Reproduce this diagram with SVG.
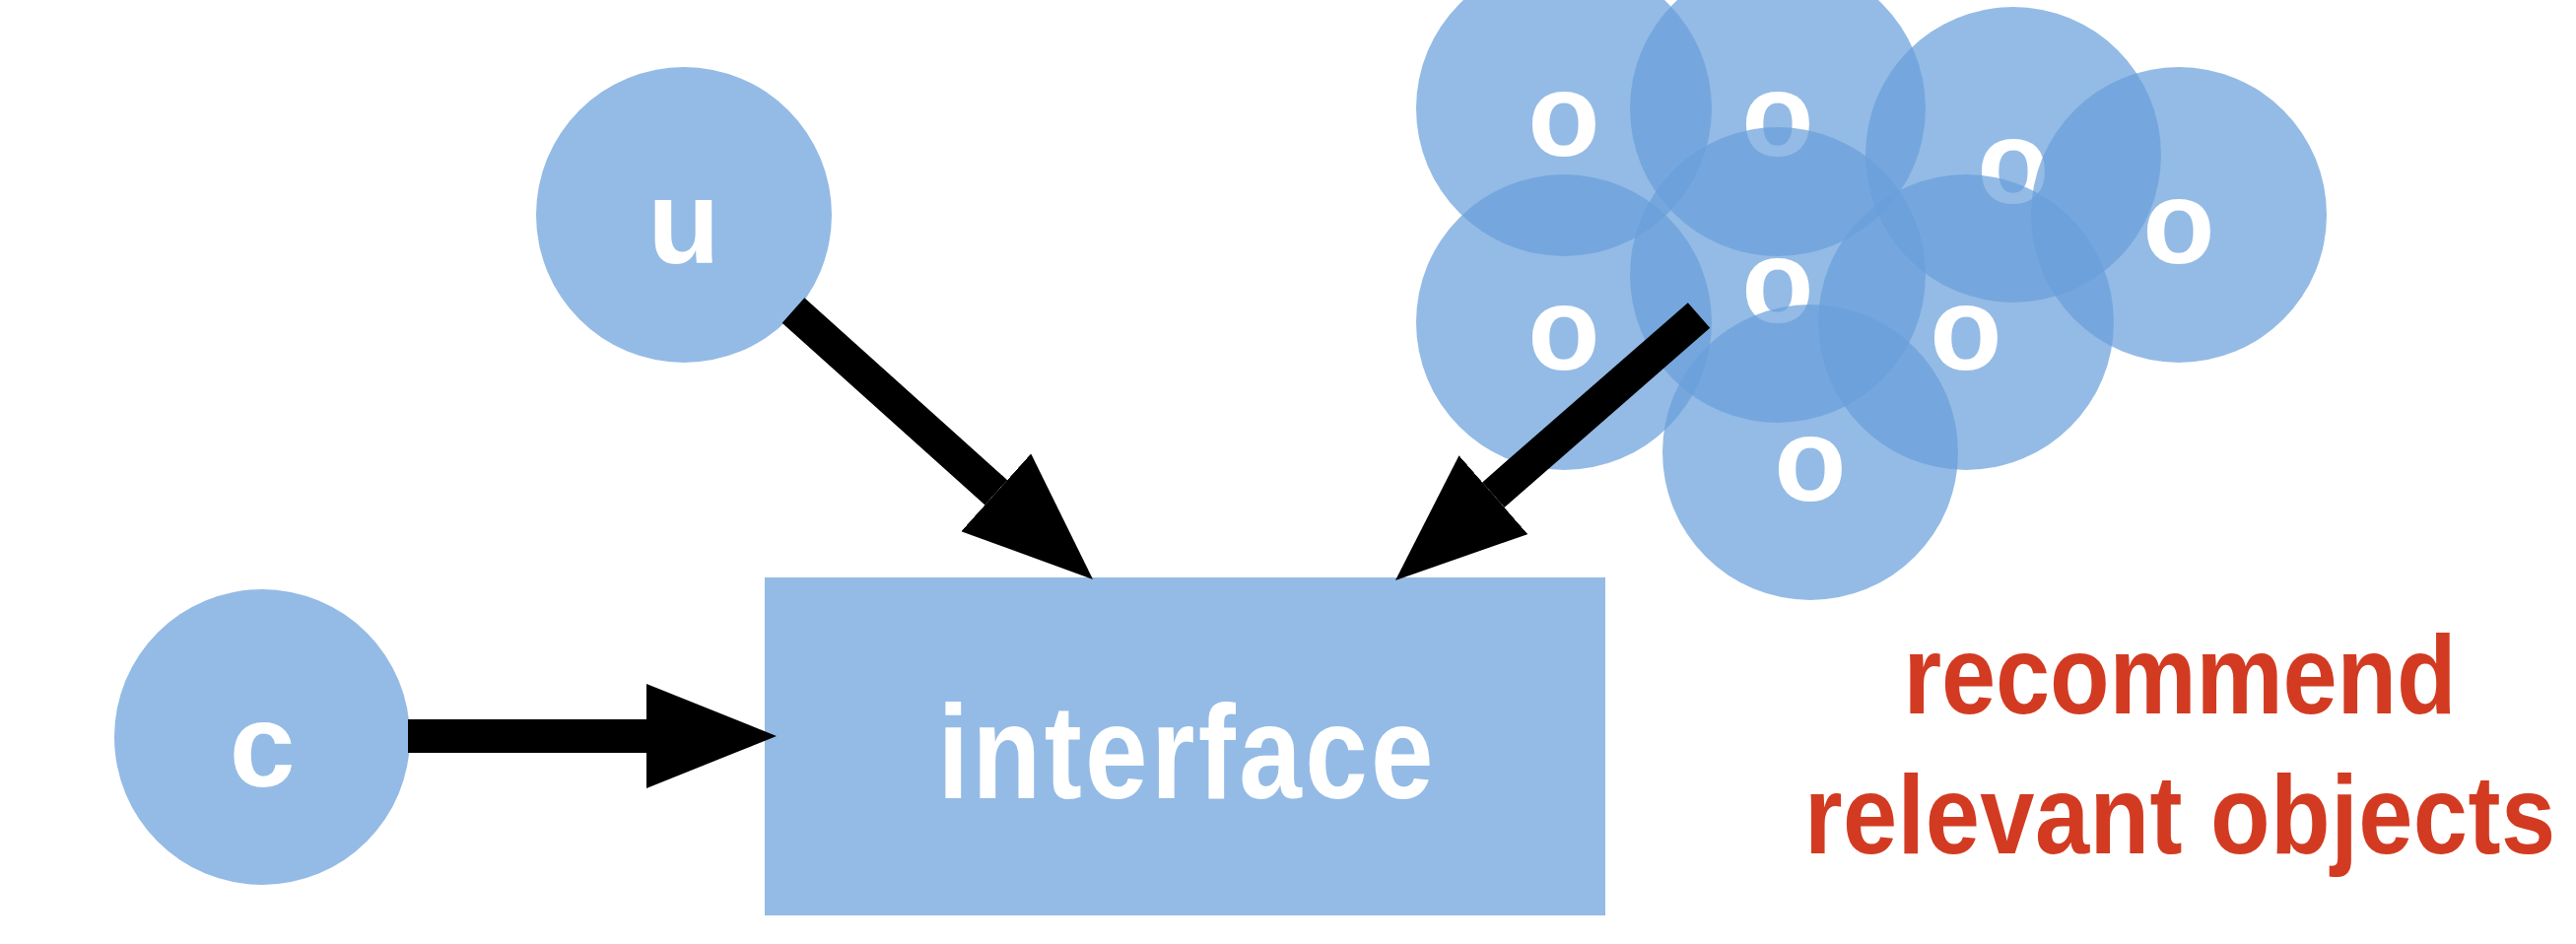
<svg xmlns="http://www.w3.org/2000/svg" width="2614" height="958" viewBox="0 0 2614 958">
<defs>
<style>
.solid{fill:#94BBE5}
.cloud{fill:#689FDA;fill-opacity:0.71}
.lbl{font-family:"Liberation Sans",Arial,sans-serif;font-weight:bold;font-size:120px;fill:#FFFFFF;text-anchor:middle}
.big{font-family:"Liberation Sans",Arial,sans-serif;font-weight:bold;font-size:136px;fill:#FFFFFF;text-anchor:middle}
.red{font-family:"Liberation Sans",Arial,sans-serif;font-weight:bold;font-size:114px;fill:#D23B22;text-anchor:middle}
.edge{stroke:#000000;stroke-width:34;fill:none;stroke-linecap:butt}
</style>
<marker id="head" markerUnits="userSpaceOnUse" viewBox="0 0 132 106" refX="0" refY="53" markerWidth="132" markerHeight="106" orient="auto">
<path d="M0,0 L132,53 L0,106 Z" fill="#000000"/>
</marker>
</defs>
<rect width="2614" height="958" fill="#FFFFFF"/>
<g id="node-u"><circle class="solid" cx="694" cy="218" r="150"/><text class="lbl" x="694" y="267">u</text></g>
<g id="node-c"><circle class="solid" cx="266" cy="748" r="150"/><text class="lbl" x="266" y="798">c</text></g>
<g id="node-interface"><rect class="solid" x="776" y="586" width="853" height="343"/><text class="big" transform="matrix(0.84,0,0,1,1203,0)" x="0" y="810" textLength="599" lengthAdjust="spacing">interface</text></g>
<g id="node-o1"><circle class="cloud" cx="1587" cy="110" r="150"/><text class="lbl" x="1587" y="158">o</text></g>
<g id="node-o2"><circle class="cloud" cx="1804" cy="110" r="150"/><text class="lbl" x="1804" y="158">o</text></g>
<g id="node-o3"><circle class="cloud" cx="2043" cy="157" r="150"/><text class="lbl" x="2043" y="206">o</text></g>
<g id="node-o5"><circle class="cloud" cx="1587" cy="327" r="150"/><text class="lbl" x="1587" y="375">o</text></g>
<g id="node-o6"><circle class="cloud" cx="1804" cy="279" r="150"/><text class="lbl" x="1804" y="327">o</text></g>
<g id="node-o7"><circle class="cloud" cx="1995" cy="327" r="150"/><text class="lbl" x="1995" y="375">o</text></g>
<g id="node-o4"><circle class="cloud" cx="2211" cy="218" r="150"/><text class="lbl" x="2211" y="267">o</text></g>
<g id="node-o8"><circle class="cloud" cx="1837" cy="459" r="150"/><text class="lbl" x="1837" y="508">o</text></g>
<g id="label-recommend">
<text class="red" transform="matrix(0.87,0,0,1,2212,0)" x="0" y="724" textLength="645" lengthAdjust="spacing">recommend</text>
<text class="red" transform="matrix(0.87,0,0,1,2212,0)" x="0" y="866" textLength="876" lengthAdjust="spacing">relevant objects</text>
</g>
<g id="connectors">
<line class="edge" x1="414" y1="747" x2="656" y2="747" marker-end="url(#head)"/>
<line class="edge" x1="805" y1="315" x2="1010.8" y2="499.8" marker-end="url(#head)"/>
<line class="edge" x1="1724" y1="320" x2="1515.4" y2="502.2" marker-end="url(#head)"/>
</g>
</svg>
